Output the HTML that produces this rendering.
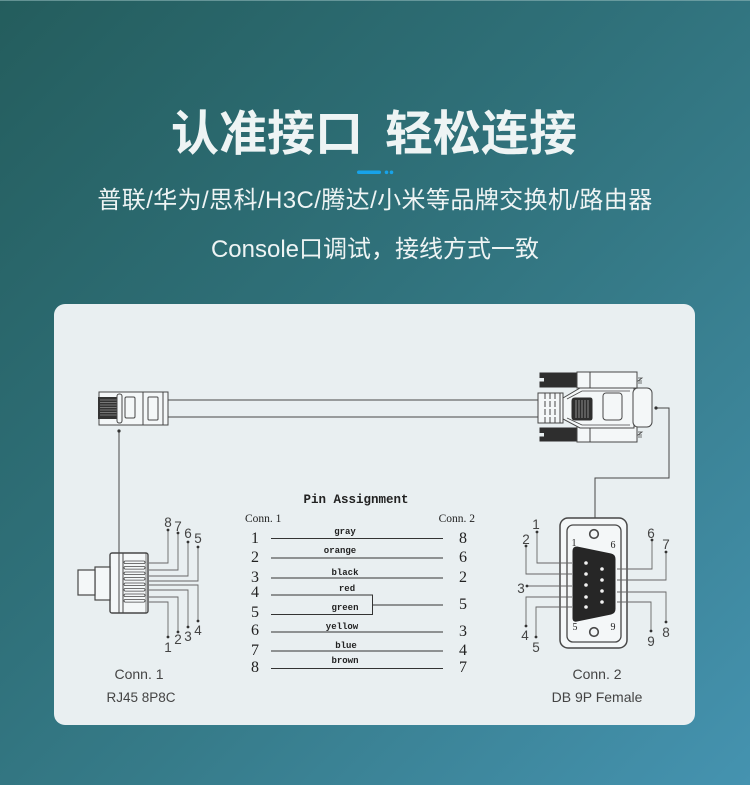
<!DOCTYPE html>
<html><head><meta charset="utf-8">
<style>
html,body{margin:0;padding:0;}
body{width:750px;height:785px;overflow:hidden;position:relative;
background:linear-gradient(135deg,#245d5d 0%,#2f7079 40%,#367b89 60%,#4593b0 100%);}
svg{position:absolute;left:0;top:0;}
</style></head>
<body>
<svg width="750" height="785" viewBox="0 0 750 785" xmlns="http://www.w3.org/2000/svg">
<rect x="0" y="0" width="750" height="1" fill="#8db5b8" opacity="0.6"/>
<!-- header -->
<g font-family="'Liberation Sans','Noto Sans CJK SC',sans-serif" fill="#eef4f4">
<text x="171" y="150" font-size="48" font-weight="700" style="font-family:'Noto Sans CJK SC',sans-serif">认准接口</text>
<text x="385" y="150" font-size="48" font-weight="700" style="font-family:'Noto Sans CJK SC',sans-serif">轻松连接</text>
<text x="375" y="208" font-size="24" text-anchor="middle" letter-spacing="0.4">普联/华为/思科/H3C/腾达/小米等品牌交换机/路由器</text>
<text x="375" y="257" font-size="24" text-anchor="middle">Console口调试，接线方式一致</text>
</g>
<rect x="357" y="170.5" width="24" height="3.5" rx="1.75" fill="#17a3ea"/>
<circle cx="386.5" cy="172.3" r="1.8" fill="#17a3ea"/>
<circle cx="391.5" cy="172.3" r="1.8" fill="#17a3ea"/>

<!-- card -->
<rect x="54" y="304" width="641" height="421" rx="11" fill="#e9eff1"/>

<g stroke="#474747" stroke-width="1" fill="none">
<!-- cable -->
<line x1="168" y1="400" x2="538" y2="400"/>
<line x1="168" y1="417" x2="538" y2="417"/>
<!-- RJ45 plug side -->
<rect x="99" y="392" width="69" height="33" fill="#f4f7f8"/>
<rect x="98.5" y="397.5" width="19" height="21" fill="#333" stroke="#333"/>
<g stroke="#bbb" stroke-width="0.6">
<line x1="100" y1="400" x2="117" y2="400"/><line x1="100" y1="402.5" x2="117" y2="402.5"/>
<line x1="100" y1="405" x2="117" y2="405"/><line x1="100" y1="407.5" x2="117" y2="407.5"/>
<line x1="100" y1="410" x2="117" y2="410"/><line x1="100" y1="412.5" x2="117" y2="412.5"/>
<line x1="100" y1="415" x2="117" y2="415"/>
</g>
<rect x="117" y="394" width="5" height="29" rx="2.2" fill="#f4f7f8"/>
<rect x="125" y="397" width="10" height="21" rx="1.5"/>
<line x1="143" y1="392" x2="143" y2="425"/>
<rect x="148" y="397" width="10" height="23" rx="1"/>
<line x1="163" y1="392" x2="163" y2="425"/>
<line x1="119" y1="431" x2="119" y2="553"/>

<!-- DB9 side -->
<rect x="538" y="393" width="25" height="30" fill="#f4f7f8"/>
<line x1="545" y1="393" x2="545" y2="423" stroke-dasharray="6,2"/>
<line x1="550" y1="393" x2="550" y2="423" stroke-dasharray="6,2"/>
<line x1="555" y1="393" x2="555" y2="423" stroke-dasharray="6,2"/>
<line x1="560" y1="393" x2="560" y2="423"/>
<!-- thumbscrews -->
<rect x="540" y="373" width="37" height="14" fill="#2e2e2e" stroke="#2e2e2e"/>
<rect x="539" y="378" width="5" height="3.5" fill="#e9eff1" stroke="none"/>
<rect x="577" y="372" width="60" height="16" fill="#f4f7f8"/>
<line x1="590" y1="372" x2="590" y2="388"/>
<path d="M638 378 h4 l-4 3 h4 M638 383 h4" stroke-width="0.8"/>
<rect x="540" y="428" width="37" height="13" fill="#2e2e2e" stroke="#2e2e2e"/>
<rect x="539" y="433" width="5" height="3.5" fill="#e9eff1" stroke="none"/>
<rect x="577" y="426" width="60" height="16" fill="#f4f7f8"/>
<line x1="590" y1="426" x2="590" y2="442"/>
<path d="M638 432 h4 l-4 3 h4 M638 437 h4" stroke-width="0.8"/>
<!-- hood -->
<path d="M563 398 L580 388 L634 388 L634 428 L580 428 L563 419 Z" fill="#f4f7f8"/>
<path d="M567 399 L582 391 L630 391 M630 425 L582 425 L567 418" stroke-width="0.8"/>
<rect x="633" y="388" width="19" height="39" rx="5" fill="#f4f7f8"/>
<path d="M575 398 L590 398 Q592 398 592 400 L592 418 Q592 420 590 420 L575 420 Q572 420 572 417 L572 401 Q572 398 575 398 Z" fill="#2e2e2e" stroke="#2e2e2e"/>
<g stroke="#ccc" stroke-width="0.6">
<line x1="576" y1="400" x2="576" y2="418"/><line x1="579" y1="400" x2="579" y2="418"/>
<line x1="582" y1="400" x2="582" y2="418"/><line x1="585" y1="400" x2="585" y2="418"/>
<line x1="588" y1="400" x2="588" y2="418"/>
</g>
<rect x="603" y="393" width="19" height="27" rx="3"/>
<polyline points="656,408 669,408 669,478 595,478 595,518"/>

<!-- RJ45 front -->
<rect x="110" y="553" width="38" height="60" rx="2" stroke-width="1.4" fill="#f4f7f8"/>
<line x1="119" y1="553" x2="119" y2="613"/>
<line x1="123" y1="553" x2="123" y2="613"/>
<line x1="146" y1="553" x2="146" y2="613" stroke-width="0.7"/>
<rect x="95" y="567" width="15" height="33" stroke-width="1.2" fill="#f4f7f8"/>
<rect x="78" y="570" width="17" height="25" stroke-width="1.2" fill="#f4f7f8"/>
<g stroke-width="0.8">
<rect x="124" y="561" width="21" height="2.6" rx="1.3"/>
<rect x="124" y="566.5" width="21" height="2.6" rx="1.3"/>
<rect x="124" y="572" width="21" height="2.6" rx="1.3"/>
<rect x="124" y="577.5" width="21" height="2.6" rx="1.3"/>
<rect x="124" y="583" width="21" height="2.6" rx="1.3"/>
<rect x="124" y="588.5" width="21" height="2.6" rx="1.3"/>
<rect x="124" y="594" width="21" height="2.6" rx="1.3"/>
<rect x="124" y="599.5" width="21" height="2.6" rx="1.3"/>
</g>
<g stroke="#666" stroke-width="0.9">
<polyline points="149,563 168,563 168,530"/>
<polyline points="149,570 178,570 178,533"/>
<polyline points="149,576 188,576 188,542"/>
<polyline points="149,581 198,581 198,547"/>
<polyline points="149,585 198,585 198,621"/>
<polyline points="149,590 188,590 188,627"/>
<polyline points="149,597 178,597 178,632"/>
<polyline points="149,602 168,602 168,637"/>
</g>

<!-- DB9 front -->
<rect x="560" y="518" width="67" height="130" rx="8" stroke-width="1.5" fill="#f4f7f8"/>
<rect x="567" y="525" width="54" height="117" rx="6" stroke-width="1.3"/>
<circle cx="594" cy="534" r="4.3" stroke-width="1.6"/>
<circle cx="594" cy="632" r="4.3" stroke-width="1.6"/>
<g stroke="#666" stroke-width="0.9">
<polyline points="537,532 537,563 572,563"/>
<polyline points="526,546 526,574 572,574"/>
<polyline points="527,586 572,586"/>
<polyline points="526,626 526,597 572,597"/>
<polyline points="536,637 536,607 572,607"/>
<polyline points="652,540 652,569 617,569"/>
<polyline points="666,552 666,580 617,580"/>
<polyline points="666,622 666,592 617,592"/>
<polyline points="651,631 651,602 617,602"/>
</g>
<path d="M577 547 L611 554 Q615 555 615 559 L615 609 Q615 613 611 614 L577 621 Q573 622 573 618 L573 551 Q573 547 577 547 Z" fill="#262626" stroke="#262626"/>

<!-- table lines -->
<g stroke="#333" stroke-width="1">
<line x1="271" y1="538.5" x2="443" y2="538.5"/>
<line x1="271" y1="558" x2="443" y2="558"/>
<line x1="271" y1="578" x2="443" y2="578"/>
<polyline points="271,595 372.5,595 372.5,614.5 271,614.5"/>
<line x1="372.5" y1="605" x2="443" y2="605"/>
<line x1="271" y1="632" x2="443" y2="632"/>
<line x1="271" y1="651" x2="443" y2="651"/>
<line x1="271" y1="668.5" x2="443" y2="668.5"/>
</g>
</g>

<!-- dots -->
<g fill="#333">
<circle cx="119" cy="431" r="1.6"/>
<circle cx="656" cy="408" r="1.6"/>
<circle cx="168" cy="530" r="1.4"/><circle cx="178" cy="533" r="1.4"/>
<circle cx="188" cy="542" r="1.4"/><circle cx="198" cy="547" r="1.4"/>
<circle cx="198" cy="621" r="1.4"/><circle cx="188" cy="627" r="1.4"/>
<circle cx="178" cy="632" r="1.4"/><circle cx="168" cy="637" r="1.4"/>
<circle cx="537" cy="532" r="1.4"/><circle cx="526" cy="546" r="1.4"/>
<circle cx="527" cy="586" r="1.4"/><circle cx="526" cy="626" r="1.4"/>
<circle cx="536" cy="637" r="1.4"/>
<circle cx="652" cy="540" r="1.4"/><circle cx="666" cy="552" r="1.4"/>
<circle cx="666" cy="622" r="1.4"/><circle cx="651" cy="631" r="1.4"/>
</g>
<!-- DB9 pin holes -->
<g fill="#f2f2f2">
<circle cx="586" cy="563" r="1.8"/><circle cx="586" cy="574" r="1.8"/>
<circle cx="586" cy="585" r="1.8"/><circle cx="586" cy="597" r="1.8"/>
<circle cx="586" cy="607" r="1.8"/>
<circle cx="602" cy="569" r="1.8"/><circle cx="602" cy="580" r="1.8"/>
<circle cx="602" cy="591" r="1.8"/><circle cx="602" cy="602" r="1.8"/>
</g>

<!-- pin labels -->
<g font-family="'Liberation Sans',sans-serif" font-size="13.5" fill="#444" text-anchor="middle">
<text x="168" y="527">8</text><text x="178" y="531">7</text>
<text x="188" y="538">6</text><text x="198" y="543">5</text>
<text x="198" y="635">4</text><text x="188" y="641">3</text>
<text x="178" y="644">2</text><text x="168" y="652">1</text>
<text x="536" y="529">1</text><text x="526" y="544">2</text>
<text x="521" y="593">3</text><text x="525" y="640">4</text>
<text x="536" y="652">5</text>
<text x="651" y="538">6</text><text x="666" y="549">7</text>
<text x="666" y="637">8</text><text x="651" y="646">9</text>
</g>
<g font-family="'Liberation Serif',serif" font-size="10" fill="#222" text-anchor="middle">
<text x="574" y="546">1</text><text x="613" y="548">6</text>
<text x="575" y="630">5</text><text x="613" y="630">9</text>
</g>

<!-- connector captions -->
<g font-family="'Liberation Sans',sans-serif" font-size="14" fill="#444" text-anchor="middle">
<text x="139" y="679">Conn. 1</text>
<text x="141" y="702" font-size="13.5">RJ45 8P8C</text>
<text x="597" y="679">Conn. 2</text>
<text x="597" y="702">DB 9P Female</text>
</g>

<!-- table text -->
<text x="356" y="503" font-family="'Liberation Mono',monospace" font-size="12.5" font-weight="700" fill="#222" text-anchor="middle">Pin Assignment</text>
<g font-family="'Liberation Serif',serif" font-size="11.5" fill="#222">
<text x="245" y="522">Conn. 1</text>
<text x="475" y="522" text-anchor="end">Conn. 2</text>
</g>
<g font-family="'Liberation Serif',serif" font-size="16" fill="#222" text-anchor="middle">
<text x="255" y="543">1</text><text x="255" y="562">2</text>
<text x="255" y="582">3</text><text x="255" y="597">4</text>
<text x="255" y="617">5</text><text x="255" y="635">6</text>
<text x="255" y="655">7</text><text x="255" y="672">8</text>
<text x="463" y="543">8</text><text x="463" y="562">6</text>
<text x="463" y="582">2</text><text x="463" y="609">5</text>
<text x="463" y="636">3</text><text x="463" y="655">4</text>
<text x="463" y="672">7</text>
</g>
<g font-family="'Liberation Mono',monospace" font-size="9" fill="#222" text-anchor="middle" font-weight="700">
<text x="345" y="534">gray</text>
<text x="340" y="553">orange</text>
<text x="345" y="575">black</text>
<text x="347" y="591">red</text>
<text x="345" y="610">green</text>
<text x="342" y="629">yellow</text>
<text x="346" y="648">blue</text>
<text x="345" y="663">brown</text>
</g>
</svg>
</body></html>
